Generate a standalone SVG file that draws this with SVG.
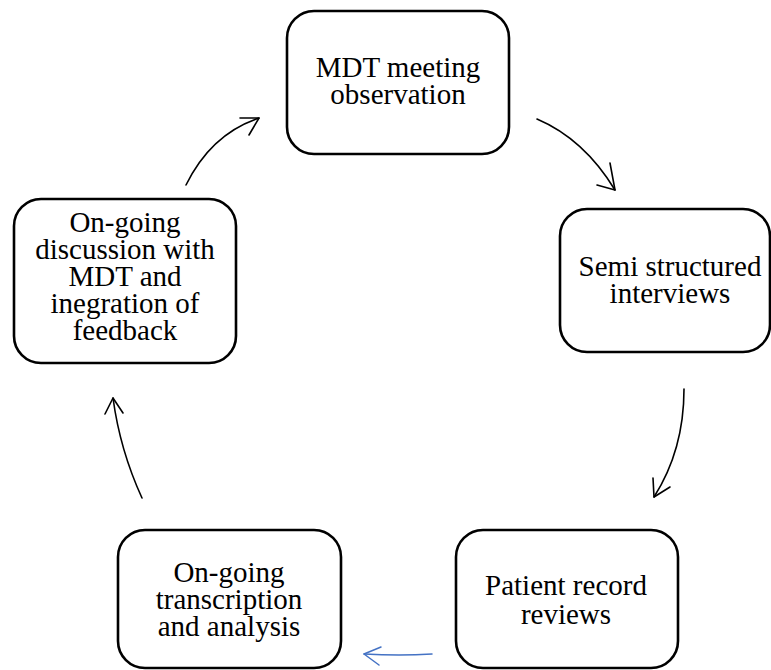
<svg xmlns="http://www.w3.org/2000/svg" width="771" height="670" viewBox="0 0 771 670">
  <style>
    .box { fill: #ffffff; stroke: #000000; stroke-width: 2.6; }
    .label { font-family: "Liberation Serif", "Times New Roman", serif; font-size: 29px; fill: #000000; text-anchor: middle; }
    .link { fill: none; stroke: #000000; stroke-width: 1.6; stroke-linecap: round; stroke-linejoin: round; }
    .link.blue { stroke: #4472C4; stroke-width: 1.5; }
  </style>
  <rect width="771" height="670" fill="#ffffff"/>

  <g id="node-mdt-observation">
    <rect class="box" x="287" y="11" width="222" height="143" rx="27"/>
    <text class="label" x="398" y="77">MDT meeting</text>
    <text class="label" x="398" y="104">observation</text>
  </g>

  <g id="node-interviews">
    <rect class="box" x="560" y="209" width="210" height="143" rx="27"/>
    <text class="label" x="670" y="276">Semi structured</text>
    <text class="label" x="670" y="303">interviews</text>
  </g>

  <g id="node-record-reviews">
    <rect class="box" x="456" y="530" width="222" height="138" rx="27"/>
    <text class="label" x="566" y="595">Patient record</text>
    <text class="label" x="566" y="624">reviews</text>
  </g>

  <g id="node-transcription">
    <rect class="box" x="118" y="530" width="223" height="138" rx="27"/>
    <text class="label" x="229" y="582">On-going</text>
    <text class="label" x="229" y="609">transcription</text>
    <text class="label" x="229" y="636">and analysis</text>
  </g>

  <g id="node-discussion">
    <rect class="box" x="14" y="199" width="222" height="164" rx="27"/>
    <text class="label" x="125" y="232">On-going</text>
    <text class="label" x="125" y="259">discussion with</text>
    <text class="label" x="125" y="286">MDT and</text>
    <text class="label" x="125" y="313">inegration of</text>
    <text class="label" x="125" y="340">feedback</text>
  </g>

  <g id="connectors">
    <!-- discussion -> observation -->
    <path class="link" d="M186,185 Q211,134 259,118"/>
    <path class="link" d="M240,118 L259,118 L249,135"/>
    <!-- observation -> interviews -->
    <path class="link" d="M537,119 Q584,139 615,190"/>
    <path class="link" d="M610,163 L615,190 L597,185"/>
    <!-- interviews -> record reviews -->
    <path class="link" d="M684,389 Q684,450 654,497"/>
    <path class="link" d="M653,478 L654,497 L670,487"/>
    <!-- record reviews -> transcription -->
    <path class="link blue" d="M432,654 Q400,656 364,654"/>
    <path class="link blue" d="M381,647 L364,654 L379,665"/>
    <!-- transcription -> discussion -->
    <path class="link" d="M142,498 Q120,450 113,398"/>
    <path class="link" d="M105,414 L113,398 L123,413"/>
  </g>
</svg>
